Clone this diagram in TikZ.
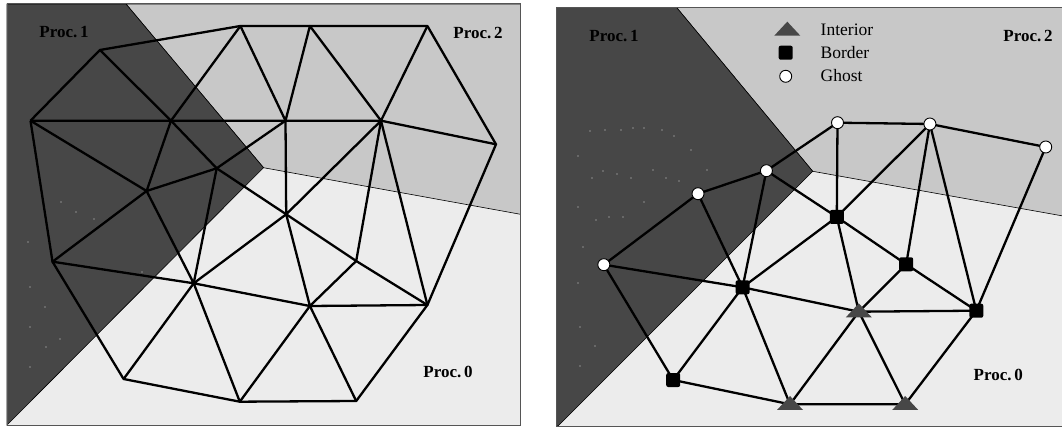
\documentclass[tikz,border=0pt]{standalone}
\usepackage{xcolor}
\usepackage{fontspec}
\setmainfont{Liberation Serif}
\usetikzlibrary{shapes.geometric}
\definecolor{procdark}{RGB}{71,71,71}
\definecolor{procmid}{RGB}{200,200,200}
\definecolor{proclight}{RGB}{236,236,236}
\definecolor{framegray}{RGB}{85,85,85}
\begin{document}
\begin{tikzpicture}[
        x=1pt,y=-1pt,
        region/.style={draw=black,line width=0.6pt},
        frame/.style={draw=framegray,line width=1pt},
        mesh/.style={draw=black,line width=2.3pt,line join=round},
        plabel/.style={font=\fontsize{17}{18}\selectfont\bfseries,inner sep=0pt},
        legtext/.style={font=\fontsize{17.5}{18}\selectfont,inner sep=0pt,anchor=west},
        ghost/.style={circle,draw=black,fill=white,line width=0.9pt,
                      minimum size=12pt,inner sep=0pt},
        border/.style={rectangle,rounded corners=2pt,fill=black,
                       minimum size=14pt,inner sep=0pt},
        interior/.style={isosceles triangle,isosceles triangle stretches,
                         shape border rotate=90,fill=procdark,inner sep=0pt,
                         minimum width=26pt,minimum height=14pt},
        speck/.style={fill=white,opacity=0.8},
      ]
        \useasboundingbox (0,0) rectangle (1062,427);
        % left panel
        \fill[proclight](7,4) rectangle (520.5,425);
        \filldraw[procmid,region](126,4)--(520.5,4)--(520.5,214.3)--(263.5,167.7)--cycle;
        \filldraw[procdark,region](7,4)--(126,4)--(263.5,167.7)--(7,425)--cycle;
        \draw[frame](7,4) rectangle (520.5,425);
        \foreach \px/\py in {61/202,76/212,94/219,28/242,30/287,45/307,30/327,46/347,60/339,30/367,142/272}
          \fill[speck](\px,\py) circle (0.7pt);
        \node[plabel](lp1) at (64,32.5){Proc.\,1};
        \node[plabel](lp2) at (478,32.5){Proc.\,2};
        \node[plabel](lp0) at (448,372){Proc.\,0};
        \coordinate (a1) at (240.4,26);
        \coordinate (a2) at (309.9,26);
        \coordinate (a3) at (427.4,26);
        \coordinate (b) at (99.9,50);
        \coordinate (c0) at (30.5,120.7);
        \coordinate (c1) at (171,120.7);
        \coordinate (c2) at (285.5,120.7);
        \coordinate (c3) at (381,120.7);
        \coordinate (d) at (496,144.3);
        \coordinate (e) at (216.7,168.3);
        \coordinate (f) at (146.6,191);
        \coordinate (g) at (286.2,214.3);
        \coordinate (h) at (52.5,261.7);
        \coordinate (i) at (356.2,261);
        \coordinate (j) at (193.7,283.3);
        \coordinate (k) at (309.9,306);
        \coordinate (l) at (427.4,305);
        \coordinate (m) at (123.6,379);
        \coordinate (n) at (239.8,401.7);
        \coordinate (o) at (356.2,401);
        \draw[mesh](c0)--(b)--(a1)--(a2)--(a3)--(d)--(l)--(o)--(n)--(m)--(h)--(c0);
        \draw[mesh](c0)--(c1)--(c2)--(c3)--(d);
        \draw[mesh](b)--(c1)--(e)--(g)--(i)--(l);
        \draw[mesh](a1)--(c1)--(f)--(c0);
        \draw[mesh](a1)--(c2)--(a2)--(c3)--(a3);
        \draw[mesh](c2)--(e)--(f)--(h)--(j)--(f);
        \draw[mesh](e)--(j)--(m);
        \draw[mesh](c2)--(g)--(c3)--(i)--(k)--(g)--(j)--(k);
        \draw[mesh](c3)--(l)--(k)--(o);
        \draw[mesh](j)--(n)--(k);
        % right panel
        \fill[proclight](556.4,7.5) rectangle (1063,426);
        \filldraw[procmid,region](676.6,7.5)--(1063,7.5)--(1063,216)--(812.7,171.3)--cycle;
        \filldraw[procdark,region](556.4,7.5)--(676.6,7.5)--(812.7,171.3)--(558,426)--(556.4,426)--cycle;
        \draw[frame](556.4,7.5) rectangle (1064,426);
        \foreach \px/\py in {590/131,605/130,621/130,633/128,644/128,662/130,674/136,578/156,691/150,592/178,603/171,617/174,631/178,653/170,666/178,679/181,707/170,578/207,596/220,609/217,623/217,644/202,583/247,578/283,580/327,595/346,580/366}
          \fill[speck](\px,\py) circle (0.6pt);
        \node[plabel](rp1) at (614,36){Proc.\,1};
        \node[plabel](rp2) at (1028,36){Proc.\,2};
        \node[plabel](rp0) at (998.3,375){Proc.\,0};
        \coordinate (ra) at (837.5,122.7);
        \coordinate (rb) at (929.9,124);
        \coordinate (rc) at (1045.7,147);
        \coordinate (rd) at (766.4,170.7);
        \coordinate (re) at (698,193.7);
        \coordinate (rf) at (603.8,264.7);
        \coordinate (rg) at (836.8,217);
        \coordinate (rh) at (906.2,264.3);
        \coordinate (ri) at (742.6,287.3);
        \coordinate (rj) at (976.3,310.7);
        \coordinate (rk) at (673.2,380);
        \coordinate (rl) at (858.8,311.7);
        \coordinate (rm) at (790,404.3);
        \coordinate (rn) at (905.2,404.3);
        \draw[mesh](rf)--(re)--(rd)--(ra)--(rb)--(rc)--(rj)--(rn)--(rm)--(rk)--(rf);
        \draw[mesh](ra)--(rg)--(rb)--(rh)--(rg)--(rd)--(ri)--(re);
        \draw[mesh](rb)--(rj)--(rh)--(rl)--(rg)--(ri)--(rf);
        \draw[mesh](rk)--(ri)--(rm)--(rl)--(ri);
        \draw[mesh](rl)--(rj);
        \draw[mesh](rl)--(rn);
        \node[ghost](nra) at (ra){};
        \node[ghost](nrb) at (rb){};
        \node[ghost](nrc) at (rc){};
        \node[ghost](nrd) at (rd){};
        \node[ghost](nre) at (re){};
        \node[ghost](nrf) at (rf){};
        \node[border](nrg) at (rg){};
        \node[border](nrh) at (rh){};
        \node[border](nri) at (ri){};
        \node[border](nrj) at (rj){};
        \node[border](nrk) at (rk){};
        \node[interior](nrl) at (rl){};
        \node[interior](nrm) at (rm){};
        \node[interior](nrn) at (rn){};
        % legend
        \node[interior](legi) at (787.3,30){};
        \node[border](legb) at (785.7,52.7){};
        \node[ghost](legg) at (785.7,76.3){};
        \node[legtext](txti) at (820.5,30){Interior};
        \node[legtext](txtb) at (820.5,52.7){Border};
        \node[legtext](txtg) at (820.5,76){Ghost};
      \end{tikzpicture}
\end{document}
